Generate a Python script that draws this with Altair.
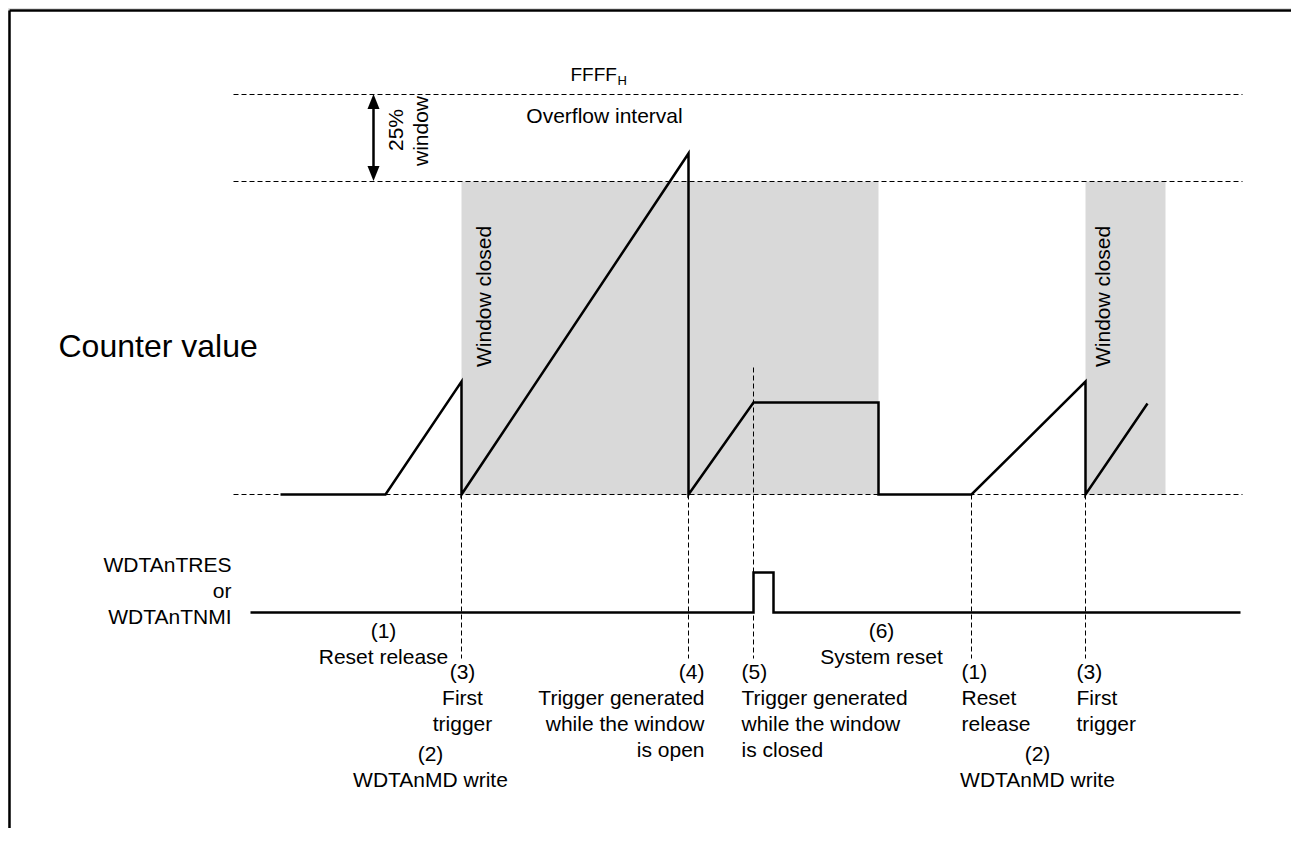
import altair as alt
import pandas as pd

# ---- data (time in px-like units, counter level relative to zero line) ----
wave_t = [280, 385, 461, 461, 688, 688, 753, 878, 878, 971, 1085, 1085, 1147]
wave_v = [0, 0, 113, 0, 341, 0, 92, 92, 0, 0, 113, 0, 91]

sig_t = [250, 753, 753, 773, 773, 1240]
sig_v = [-118, -118, -78, -78, -118, -118]

level_v = [400, 313, 0]          # FFFF, 75% window limit, zero
level_x0, level_x1 = 233, 1242

shade_start = [461, 1085]
shade_end = [878, 1165]

event_t = [461, 688, 753, 971, 1085]
event_top = [0, 0, 127, 0, 0]
event_bot = [-164, -164, -164, -164, -164]

ZERO_PY = 494.5  # page pixel row of the zero level
W, H = 1283, 820
X0 = 7.5
xs = alt.Scale(domain=[X0, X0 + W], nice=False, zero=False)
ys = alt.Scale(domain=[ZERO_PY - (8 + H), ZERO_PY - 8], nice=False, zero=False)


def lv(py):
    return ZERO_PY - py


def X(f):
    return alt.X(f, type="quantitative", scale=xs, axis=None)


def Y(f):
    return alt.Y(f, type="quantitative", scale=ys, axis=None)


FONT = "Liberation Sans"
LH = 26

center_groups = [
    (["(1)", "Reset release"], 383, 638),
    (["(3)", "First", "trigger"], 462, 679),
    (["(2)", "WDTAnMD write"], 430, 761),
    (["(6)", "System reset"], 881, 638),
    (["(2)", "WDTAnMD write"], 1037, 761),
    (["Overflow interval"], 604, 123),
]
right_groups = [
    (["(4)", "Trigger generated", "while the window", "is open"], 704, 679),
    (["WDTAnTRES", "or", "WDTAnTNMI"], 231, 572),
]
left_groups = [
    (["(5)", "Trigger generated", "while the window", "is closed"], 741, 679),
    (["(1)", "Reset", "release"], 961, 679),
    (["(3)", "First", "trigger"], 1076, 679),
]


def expand(groups, lh=LH):
    rows = []
    for lines, x, y0 in groups:
        for i, s in enumerate(lines):
            rows.append({"t": x, "v": lv(y0 + i * lh), "txt": s})
    return pd.DataFrame(rows)


# ---- layers ----
shade = alt.Chart(pd.DataFrame({"a": shade_start, "b": shade_end, "lo": [0, 0], "hi": [313, 313]})).mark_rect(
    color="#d9d9d9"
).encode(x=X("a"), x2="b", y=Y("lo"), y2="hi")

hlines = alt.Chart(pd.DataFrame({"v": level_v, "a": [level_x0] * 3, "b": [level_x1] * 3})).mark_rule(
    color="black", strokeWidth=1, strokeDash=[5, 3]
).encode(x=X("a"), x2="b", y=Y("v"))

vlines = alt.Chart(pd.DataFrame({"t": event_t, "top": event_top, "bot": event_bot})).mark_rule(
    color="black", strokeWidth=1, strokeDash=[5, 3]
).encode(x=X("t"), y=Y("top"), y2="bot")

wave = alt.Chart(pd.DataFrame({"t": wave_t, "v": wave_v, "i": range(len(wave_t))})).mark_line(
    color="black", strokeWidth=2.5, strokeJoin="miter"
).encode(x=X("t"), y=Y("v"), order="i:Q")

sig = alt.Chart(pd.DataFrame({"t": sig_t, "v": sig_v, "i": range(len(sig_t))})).mark_line(
    color="black", strokeWidth=2.5, strokeJoin="miter"
).encode(x=X("t"), y=Y("v"), order="i:Q")

# double arrow for the 25% window
arrow_x = 373
arrow_rule = alt.Chart(pd.DataFrame({"t": [arrow_x], "a": [lv(106)], "b": [lv(169)]})).mark_rule(
    color="black", strokeWidth=2.5
).encode(x=X("t"), y=Y("a"), y2="b")
head_up = alt.Chart(pd.DataFrame({"t": [arrow_x], "v": [lv(101.5)]})).mark_point(
    shape="M0,-1L0.8,1L-0.8,1Z", size=225, filled=True, color="black", opacity=1
).encode(x=X("t"), y=Y("v"))
head_dn = alt.Chart(pd.DataFrame({"t": [arrow_x], "v": [lv(173.5)]})).mark_point(
    shape="M0,1L0.8,-1L-0.8,-1Z", size=225, filled=True, color="black", opacity=1
).encode(x=X("t"), y=Y("v"))

txt_c = alt.Chart(expand(center_groups)).mark_text(
    align="center", baseline="alphabetic", font=FONT, fontSize=21, color="black"
).encode(x=X("t"), y=Y("v"), text="txt:N")
txt_r = alt.Chart(expand(right_groups)).mark_text(
    align="right", baseline="alphabetic", font=FONT, fontSize=21, color="black"
).encode(x=X("t"), y=Y("v"), text="txt:N")
txt_l = alt.Chart(expand(left_groups)).mark_text(
    align="left", baseline="alphabetic", font=FONT, fontSize=21, color="black"
).encode(x=X("t"), y=Y("v"), text="txt:N")

ffff = alt.Chart(pd.DataFrame({"t": [570], "v": [lv(81)], "txt": ["FFFF"]})).mark_text(
    align="left", baseline="alphabetic", font=FONT, fontSize=19, color="black"
).encode(x=X("t"), y=Y("v"), text="txt:N")
sub_h = alt.Chart(pd.DataFrame({"t": [617], "v": [lv(85)], "txt": ["H"]})).mark_text(
    align="left", baseline="alphabetic", font=FONT, fontSize=13, color="black"
).encode(x=X("t"), y=Y("v"), text="txt:N")

counter = alt.Chart(pd.DataFrame({"t": [58], "v": [lv(357)], "txt": ["Counter value"]})).mark_text(
    align="left", baseline="alphabetic", font=FONT, fontSize=32, color="black"
).encode(x=X("t"), y=Y("v"), text="txt:N")

win_closed = alt.Chart(pd.DataFrame({"t": [490, 1109], "v": [lv(367), lv(367)], "txt": ["Window closed"] * 2})).mark_text(
    align="left", baseline="alphabetic", font=FONT, fontSize=21, angle=270, color="black"
).encode(x=X("t"), y=Y("v"), text="txt:N")

pct = alt.Chart(pd.DataFrame({"t": [402, 427], "v": [lv(130), lv(131)], "txt": ["25%", "window"]})).mark_text(
    align="center", baseline="alphabetic", font=FONT, fontSize=21, angle=270, color="black"
).encode(x=X("t"), y=Y("v"), text="txt:N")

# frame (top and left edges)
frame_top = alt.Chart(pd.DataFrame({"a": [9], "b": [X0 + W], "v": [lv(10.5)]})).mark_rule(
    color="black", strokeWidth=2.5
).encode(x=X("a"), x2="b", y=Y("v"))
frame_left = alt.Chart(pd.DataFrame({"t": [9], "a": [lv(10.5)], "b": [lv(8 + H)]})).mark_rule(
    color="black", strokeWidth=2.5
).encode(x=X("t"), y=Y("a"), y2="b")

chart = alt.layer(
    shade, hlines, vlines, wave, sig, arrow_rule, head_up, head_dn,
    txt_c, txt_r, txt_l, ffff, sub_h, counter, win_closed, pct, frame_top, frame_left
).properties(
    width=W, height=H, padding=0, autosize=alt.AutoSizeParams(type="none")
).configure_view(stroke=None).configure(background="white")

chart.save("out.html", embed_options={"renderer": "svg", "actions": False})
